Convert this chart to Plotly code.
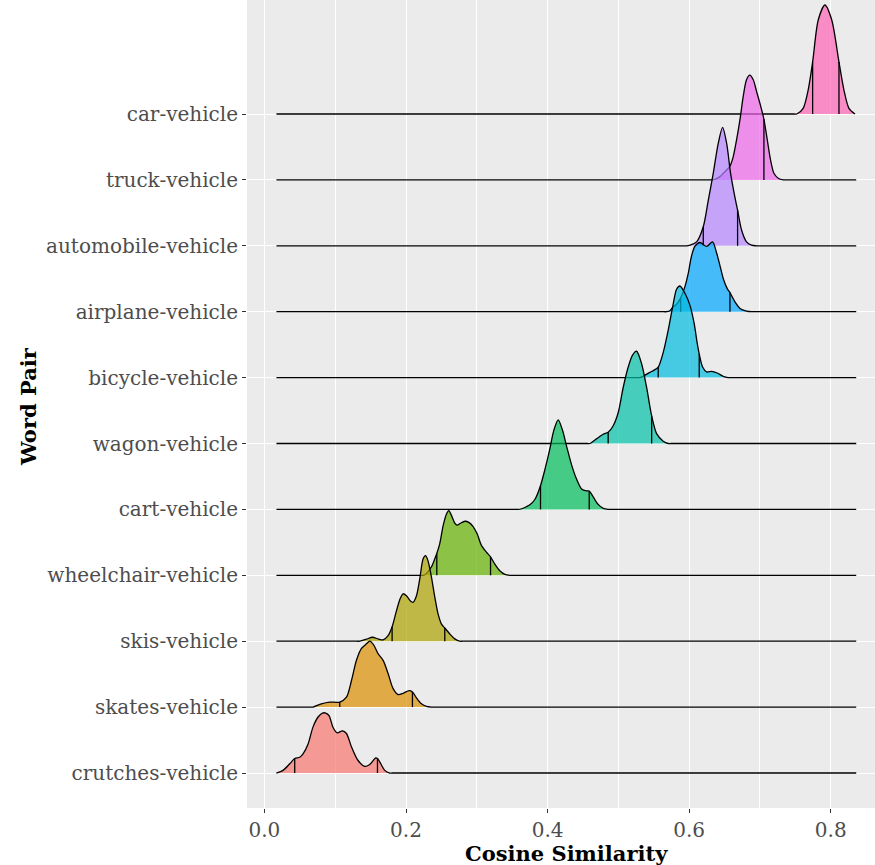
import plotly.graph_objects as go

# ---------------- data ----------------
pairs = ["crutches-vehicle", "skates-vehicle", "skis-vehicle", "wheelchair-vehicle",
         "cart-vehicle", "wagon-vehicle", "bicycle-vehicle", "airplane-vehicle",
         "automobile-vehicle", "truck-vehicle", "car-vehicle"]

colors = ["#F8766D", "#DB8E00", "#AEA200", "#64B200", "#00BD5C", "#00C1A7",
          "#00BADE", "#00A6FF", "#B385FF", "#EF67EB", "#FF63B6"]

support_min = 0.017
support_max = 0.836

crutches_x = [0.0169, 0.0263, 0.0358, 0.0428, 0.0499, 0.0546, 0.0617, 0.0687, 0.0758, 0.0820,
              0.0866, 0.0913, 0.0970, 0.1027, 0.1102, 0.1159, 0.1229, 0.1323, 0.1417, 0.1488,
              0.1573, 0.1597, 0.1629, 0.1700, 0.1771]
crutches_h = [0.0, 0.04, 0.14, 0.22, 0.24, 0.29, 0.44, 0.70, 0.85, 0.91,
              0.91, 0.87, 0.69, 0.61, 0.64, 0.60, 0.40, 0.19, 0.10, 0.13,
              0.23, 0.22, 0.17, 0.04, 0.0]

skates_x = [0.0687, 0.0805, 0.0923, 0.1064, 0.1159, 0.1229, 0.1300, 0.1371, 0.1441, 0.1488,
            0.1545, 0.1606, 0.1677, 0.1747, 0.1818, 0.1888, 0.1959, 0.2044, 0.2091, 0.2148,
            0.2218, 0.2289, 0.2360]
skates_h = [0.0, 0.05, 0.076, 0.076, 0.15, 0.40, 0.71, 0.89, 0.96, 1.00,
            0.94, 0.81, 0.71, 0.51, 0.28, 0.19, 0.21, 0.25, 0.23, 0.14,
            0.05, 0.01, 0.0]

skis_x = [0.1347, 0.1441, 0.1526, 0.1606, 0.1677, 0.1747, 0.1804, 0.1865, 0.1912, 0.1959,
          0.2006, 0.2063, 0.2100, 0.2148, 0.2195, 0.2242, 0.2275, 0.2308, 0.2355, 0.2407,
          0.2454, 0.2501, 0.2548, 0.2619, 0.2689, 0.2760]
skis_h = [0.0, 0.03, 0.06, 0.035, 0.02, 0.085, 0.22, 0.46, 0.63, 0.72,
          0.69, 0.61, 0.59, 0.69, 0.95, 1.25, 1.30, 1.23, 1.00, 0.67,
          0.41, 0.26, 0.20, 0.11, 0.035, 0.0]

wheelchair_x = [0.2251, 0.2298, 0.2360, 0.2407, 0.2435, 0.2477, 0.2524, 0.2572, 0.2605, 0.2642,
                0.2689, 0.2722, 0.2770, 0.2831, 0.2892, 0.2948, 0.3005, 0.3067, 0.3137, 0.3194,
                0.3255, 0.3325, 0.3396, 0.3467]
wheelchair_h = [0.0, 0.04, 0.13, 0.25, 0.33, 0.48, 0.75, 0.93, 0.98, 0.91,
                0.79, 0.76, 0.79, 0.82, 0.80, 0.74, 0.63, 0.45, 0.35, 0.28,
                0.17, 0.07, 0.015, 0.0]

cart_x = [0.3585, 0.3632, 0.3700, 0.3750, 0.3820, 0.3900, 0.3961, 0.4032, 0.4088, 0.4150,
          0.4211, 0.4268, 0.4338, 0.4409, 0.4480, 0.4550, 0.4588, 0.4644, 0.4715, 0.4786,
          0.4856]
cart_h = [0.0, 0.01, 0.04, 0.07, 0.15, 0.36, 0.60, 0.92, 1.20, 1.36,
          1.20, 0.96, 0.68, 0.46, 0.31, 0.28, 0.28, 0.19, 0.076, 0.015,
          0.0]

wagon_x = [0.4600, 0.4690, 0.4786, 0.4856, 0.4927, 0.4998, 0.5068, 0.5139, 0.5200, 0.5257,
           0.5328, 0.5399, 0.5470, 0.5540, 0.5633, 0.5704]
wagon_h = [0.0, 0.07, 0.14, 0.17, 0.27, 0.47, 0.85, 1.16, 1.34, 1.40,
           1.21, 0.85, 0.42, 0.15, 0.035, 0.0]

bicycle_x = [0.5300, 0.5350, 0.5445, 0.5500, 0.5563, 0.5633, 0.5704, 0.5775, 0.5822, 0.5869,
             0.5940, 0.6010, 0.6071, 0.6114, 0.6142, 0.6190, 0.6246, 0.6317, 0.6396, 0.6480,
             0.6550]
bicycle_h = [0.0, 0.02, 0.08, 0.11, 0.16, 0.38, 0.72, 1.12, 1.34, 1.39,
             1.28, 1.10, 0.82, 0.52, 0.36, 0.16, 0.086, 0.096, 0.07, 0.02,
             0.0]

airplane_x = [0.5680, 0.5728, 0.5775, 0.5820, 0.5880, 0.5940, 0.5987, 0.6030, 0.6080, 0.6152,
              0.6246, 0.6330, 0.6388, 0.6458, 0.6482, 0.6538, 0.6576, 0.6647, 0.6717, 0.6810,
              0.6880]
airplane_h = [0.0, 0.015, 0.076, 0.11, 0.21, 0.38, 0.58, 0.83, 0.99, 1.05,
              0.99, 1.06, 0.89, 0.60, 0.50, 0.35, 0.29, 0.15, 0.05, 0.01,
              0.0]

automobile_x = [0.5960, 0.6010, 0.6105, 0.6199, 0.6270, 0.6340, 0.6410, 0.6472, 0.6530, 0.6585,
                0.6646, 0.6684, 0.6740, 0.6810, 0.6880, 0.6950]
automobile_h = [0.0, 0.01, 0.06, 0.29, 0.69, 1.10, 1.55, 1.797, 1.55, 1.10,
                0.74, 0.54, 0.24, 0.06, 0.01, 0.0]

truck_x = [0.6320, 0.6364, 0.6434, 0.6481, 0.6529, 0.6576, 0.6622, 0.6670, 0.6717, 0.6764,
           0.6810, 0.6857, 0.6905, 0.6953, 0.7000, 0.7056, 0.7103, 0.7150, 0.7197, 0.7258,
           0.7330]
truck_h = [0.0, 0.01, 0.05, 0.10, 0.15, 0.21, 0.35, 0.61, 0.91, 1.27,
           1.52, 1.59, 1.52, 1.34, 1.16, 0.92, 0.61, 0.30, 0.10, 0.025,
           0.0]

car_x = [0.7520, 0.7610, 0.7680, 0.7744, 0.7824, 0.7918, 0.8013, 0.8116, 0.8187, 0.8257, 0.8342]
car_h = [0.0, 0.086, 0.36, 0.79, 1.43, 1.654, 1.43, 0.79, 0.36, 0.086, 0.0]

q_low = [0.0428, 0.1064, 0.1804, 0.2435, 0.3900, 0.4856, 0.5563, 0.5880, 0.6199, None, 0.7744]
q_high = [0.1597, 0.2091, 0.2548, 0.3194, 0.4588, 0.5470, 0.6142, 0.6576, 0.6684, 0.7056, 0.8116]

x_ticks = [0.0, 0.2, 0.4, 0.6, 0.8]

ridges_x = [crutches_x, skates_x, skis_x, wheelchair_x, cart_x, wagon_x,
            bicycle_x, airplane_x, automobile_x, truck_x, car_x]
ridges_h = [crutches_h, skates_h, skis_h, wheelchair_h, cart_h, wagon_h,
            bicycle_h, airplane_h, automobile_h, truck_h, car_h]

# ---------------- figure ----------------
FONT = "DejaVu Serif"
ALPHA = 0.7
PAD = 0.004
LW = 1.3


def rgba(hex_color, a):
    h = hex_color.lstrip("#")
    r, g, b = int(h[0:2], 16), int(h[2:4], 16), int(h[4:6], 16)
    return f"rgba({r},{g},{b},{a})"


fig = go.Figure()

# draw from top ridge to bottom ridge so lower ridges overlap upper ones
for idx in reversed(range(len(pairs))):
    xs = list(ridges_x[idx])
    hs = list(ridges_h[idx])
    full_x, full_h = [], []
    if xs[0] - PAD > support_min:
        full_x += [support_min, xs[0] - PAD]
        full_h += [0.0, 0.0]
    full_x += xs
    full_h += hs
    if xs[-1] + PAD < support_max:
        full_x += [xs[-1] + PAD, support_max]
        full_h += [0.0, 0.0]
    fig.add_trace(go.Scatter(
        x=full_x, y=[idx + v for v in full_h],
        mode="lines", fill="toself", fillcolor=rgba(colors[idx], ALPHA),
        line=dict(color="black", width=LW, shape="spline", smoothing=0.8),
        hoverinfo="skip", showlegend=False))
    for q in (q_low[idx], q_high[idx]):
        if q is None:
            continue
        top = hs[xs.index(q)]
        fig.add_trace(go.Scatter(
            x=[q, q], y=[idx, idx + top], mode="lines",
            line=dict(color="black", width=LW),
            hoverinfo="skip", showlegend=False))

W, H = 875, 865
ML, MR, MT, MB = 247, 0, 0, 57
plot_h = H - MT - MB
plot_w = W - ML - MR
TICK_SIZE = 20
TITLE_SIZE = 21

fig.update_layout(
    width=W, height=H,
    margin=dict(l=ML, r=MR, t=MT, b=MB, pad=0),
    paper_bgcolor="white",
    plot_bgcolor="#EBEBEB",
    font=dict(family=FONT, color="#4D4D4D", size=TICK_SIZE),
    showlegend=False,
)

fig.update_xaxes(
    range=[-0.0246, 0.8625],
    tickmode="array", tickvals=x_ticks, ticktext=[f"{v:.1f}" for v in x_ticks],
    showgrid=True, gridcolor="white", gridwidth=1.1,
    minor=dict(tickvals=[0.1, 0.3, 0.5, 0.7], showgrid=True, gridcolor="white", gridwidth=0.5),
    zeroline=False, showline=False,
    ticks="outside", ticklen=4, tickwidth=1, tickcolor="#333333",
    tickfont=dict(family=FONT, size=TICK_SIZE, color="#4D4D4D"),
)

fig.update_yaxes(
    range=[-0.531, 10 + 114 / 65.9],
    tickmode="array", tickvals=list(range(len(pairs))), ticktext=pairs,
    showgrid=True, gridcolor="white", gridwidth=1.1,
    zeroline=False, showline=False,
    ticks="outside", ticklen=4, tickwidth=1, tickcolor="#333333",
    tickfont=dict(family=FONT, size=TICK_SIZE, color="#4D4D4D"),
)

fig.add_annotation(
    text="<b>Cosine Similarity</b>", xref="paper", yref="paper",
    x=(566 - ML) / plot_w, y=(plot_h - 853) / plot_h, xanchor="center", yanchor="middle",
    showarrow=False, font=dict(family=FONT, size=TITLE_SIZE, color="black"))

fig.add_annotation(
    text="<b>Word Pair</b>", xref="paper", yref="paper",
    x=(28 - ML) / plot_w, y=(plot_h - 407) / plot_h, xanchor="center", yanchor="middle",
    textangle=-90, showarrow=False, font=dict(family=FONT, size=TITLE_SIZE, color="black"))

fig.write_html("out.html",
               config={"displayModeBar": False},
               post_script="document.body.style.margin='0px'; document.body.style.overflow='hidden';")
